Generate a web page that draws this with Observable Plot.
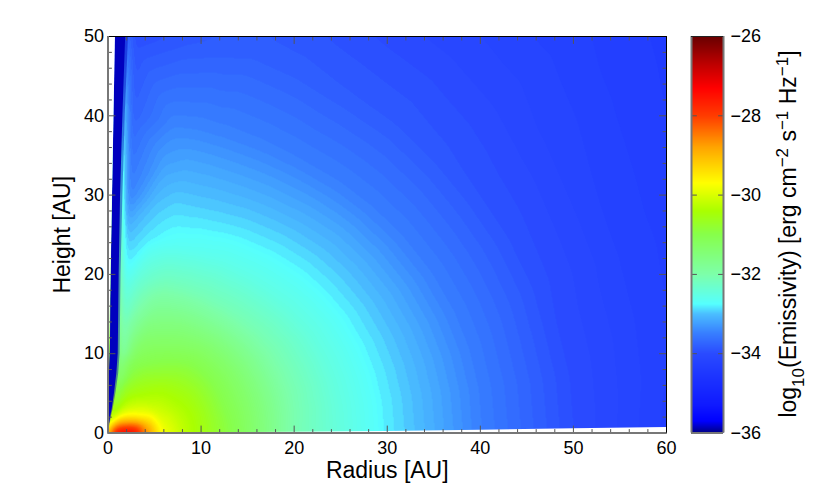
<!DOCTYPE html>
<html><head><meta charset="utf-8">
<script src="https://cdn.jsdelivr.net/npm/d3@7"></script>
<script src="https://cdn.jsdelivr.net/npm/@observablehq/plot@0.6"></script>
<style>
html,body{margin:0;padding:0;background:#fff}
#wrap{position:relative;width:830px;height:487px}
#wrap svg{position:absolute;left:0;top:0;font-family:"Liberation Sans",Arial,sans-serif}
</style></head><body><div id="wrap"></div>
<script>
// spherical radius [AU] of the sampled rows
const radii = [0.3,0.6,1,1.5,2,3,4,5.7,8,10,13,16,20,25,30,35,40,50,60,70,80];
// log10 emissivity read along rays, by elevation above the midplane [deg]
const elev0  = [-27.8,-27.4,-27.2,-27.1,-27.1,-27.4,-28.4,-29.7,-30.2,-30.5,-30.95,-31.4,-32.05,-32.45,-32.78,-33.1,-33.45,-33.95,-34.25,-34.4,-34.5];
const elev15 = [-28.1,-27.9,-27.7,-27.6,-27.7,-28,-28.9,-29.85,-30.25,-30.5,-31,-31.4,-32,-32.45,-32.78,-33.1,-33.45,-33.95,-34.2,-34.35,-34.45];
const elev30 = [-28.6,-28.4,-28.3,-28.2,-28.4,-29,-29.6,-30.05,-30.35,-30.55,-31,-31.4,-32,-32.45,-32.78,-33.1,-33.45,-33.9,-34.15,-34.3,-34.4];
const elev45 = [-29,-28.7,-28.5,-28.5,-28.9,-29.6,-29.95,-30.25,-30.45,-30.7,-31.05,-31.45,-32.05,-32.5,-32.8,-33.1,-33.45,-33.85,-34.05,-34.2,-34.3];
const elev60 = [-29.3,-28.8,-28.6,-29.1,-29.6,-30,-30.2,-30.45,-30.7,-30.95,-31.25,-31.55,-32.1,-32.55,-32.85,-33.14,-33.45,-33.8,-34,-34.15,-34.25];
const elev72 = [-29.5,-29.2,-29.8,-30.1,-30.3,-30.45,-30.55,-30.7,-30.95,-31.15,-31.4,-31.7,-32.15,-32.65,-32.9,-33.15,-33.43,-33.75,-33.95,-34.1,-34.2];
const elev80 = [-30,-30,-30.1,-30.3,-30.5,-30.7,-30.9,-31.1,-31.4,-31.6,-31.85,-32.1,-32.4,-32.8,-33,-33.22,-33.43,-33.82,-34,-34.1,-34.2];
const elevations = [[0,elev0],[15,elev15],[30,elev30],[45,elev45],[60,elev60],[72,elev72],[80,elev80]];

// extra rays, outer part only
const outerRadii = [8,10,13,16,20,25,30,35,40,50,60,70,80];
const elev8  = [-30.22,-30.5,-30.97,-31.4,-32.02,-32.45,-32.78,-33.1,-33.45,-33.95,-34.22,-34.38,-34.48];
const elev22 = [-30.3,-30.52,-31,-31.4,-32,-32.45,-32.78,-33.1,-33.45,-33.92,-34.18,-34.32,-34.42];
const elev38 = [-30.4,-30.62,-31.02,-31.42,-32.02,-32.47,-32.79,-33.1,-33.45,-33.88,-34.1,-34.25,-34.35];
const elev52 = [-30.58,-30.82,-31.15,-31.5,-32.08,-32.52,-32.82,-33.12,-33.45,-33.82,-34.02,-34.18,-34.28];
const elev66 = [-30.82,-31.05,-31.32,-31.62,-32.12,-32.6,-32.88,-33.15,-33.44,-33.77,-33.97,-34.12,-34.22];
const elev76 = [-31.15,-31.35,-31.6,-31.88,-32.25,-32.7,-32.9,-33.15,-33.42,-33.78,-33.97,-34.1,-34.2];
const outerElevations = [[8,elev8],[22,elev22],[38,elev38],[52,elev52],[66,elev66],[76,elev76]];

// the evacuated polar cone, read by height
const coneHeight   = [0,1,2,3,5,7.5,10,15,20,30,40,50,55];
const coneInnerR   = [0,0.02,0.04,0.06,0.1,0.15,0.25,0.3,0.35,0.5,0.65,0.8,0.9];
const coneOuterR   = [0,0.15,0.28,0.45,0.7,0.95,1.1,1.15,1.2,1.35,1.6,1.9,2.1];
const coneFadeR    = [0,0.2,0.36,0.55,0.85,1.15,1.3,1.35,1.4,1.6,1.85,2.2,2.4];
const shoulderHeight = [1,2,3,5,7.5,10,15,20,25,30,40,50,55];
const shoulderR    = [0.3,0.5,0.8,1.1,1.4,1.6,1.75,1.8,1.9,2,2.3,2.6,2.8];
const shoulderVal  = [-29,-30,-30.5,-31,-31.5,-32,-32.3,-32.7,-33,-33.45,-33.75,-33.95,-34.05];

// unfilled wedges of the grid
const gapLeftZ = [0,50], gapLeftR = [0,0.8];
const gapBottomR = [0,10,20,30,40,50,60], gapBottomZ = [0,0.02,0.1,0.2,0.35,0.55,0.7];

// colour table
const colorValues = [-36,-35.7,-35.3,-34.5,-34,-33.5,-33,-32.75,-32,-31,-30.4,-29.7,-28.8,-28,-27.3,-26.7,-26];
const colorStops = ["rgb(0,0,130)","rgb(0,0,255)","rgb(15,25,255)","rgb(30,55,255)","rgb(42,75,255)","rgb(55,125,255)","rgb(75,190,255)","rgb(85,255,255)","rgb(125,255,170)","rgb(135,255,75)","rgb(170,255,0)","rgb(255,255,0)","rgb(255,165,0)","rgb(255,60,0)","rgb(255,0,0)","rgb(190,0,0)","rgb(105,0,0)"];

const xMajor = [0,10,20,30,40,50,60];
const yMajor = [0,10,20,30,40,50];
const xMinor = [2,4,6,8,12,14,16,18,22,24,26,28,32,34,36,38,42,44,46,48,52,54,56,58];
const yMinor = [2,4,6,8,12,14,16,18,22,24,26,28,32,34,36,38,42,44,46,48];
const barTicks = [-36,-34,-32,-30,-28,-26];

const points = [];
const addRay = (rs,e,vals)=>rs.forEach((r,i)=>points.push({
  x:r*Math.cos(e*Math.PI/180), y:r*Math.sin(e*Math.PI/180), v:vals[i]}));
for (const [e, vals] of elevations) addRay(radii,e,vals);
for (const [e, vals] of outerElevations) addRay(outerRadii,e,vals);
shoulderHeight.forEach((z,i)=>points.push({x:shoulderR[i],y:z,v:shoulderVal[i]}));

const tickShape = {draw(c,l){c.moveTo(0,0);c.lineTo(0,-l);}};
const xt = (data,anchor,len,stroke="#555")=>Plot.vector(data,{x:d=>d,frameAnchor:anchor,length:len,rotate:anchor==="bottom"?0:180,anchor:"start",shape:tickShape,stroke,strokeWidth:1});
const yt = (data,anchor,len,stroke="#555")=>Plot.vector(data,{y:d=>d,frameAnchor:anchor,length:len,rotate:anchor==="left"?90:270,anchor:"start",shape:tickShape,stroke,strokeWidth:1});
const thresholds = [...d3.range(-36.05,-32.72,0.07),...d3.range(-32.72,-26,0.03)];
const colorScale = {type:"linear",domain:colorValues,range:colorStops,clamp:true};

const main = Plot.plot({
  width:830,height:487,marginLeft:107.5,marginRight:164,marginTop:36,marginBottom:54.5,
  style:{background:"transparent",fontFamily:"Liberation Sans"},
  x:{domain:[0,60]},y:{domain:[0,50]},color:colorScale,
  marks:[
    Plot.contour(points,{x:"x",y:"y",value:"v",fill:"value",thresholds,interpolate:"barycentric",pixelSize:1,blur:3,smooth:false}),
    Plot.areaX(coneHeight,{y:d=>d,x1:(d,i)=>coneInnerR[i],x2:(d,i)=>coneFadeR[i],fill:"rgb(0,0,190)",fillOpacity:0.45,clip:true}),
    Plot.areaX(coneHeight,{y:d=>d,x1:(d,i)=>coneInnerR[i],x2:(d,i)=>coneOuterR[i],fill:"rgb(0,0,190)",clip:true}),
    Plot.areaX(gapLeftZ,{y:d=>d,x1:0,x2:(d,i)=>gapLeftR[i],fill:"white"}),
    Plot.areaY(gapBottomR,{x:d=>d,y1:0,y2:(d,i)=>gapBottomZ[i],fill:"white"}),
    xt(xMajor,"bottom",7),xt(xMinor,"bottom",3.5),xt(xMajor,"top",7),xt(xMinor,"top",3.5),
    yt(yMajor,"left",7),yt(yMinor,"left",3.5),yt(yMajor,"right",7),yt(yMinor,"right",3.5),
    Plot.ruleY([50],{stroke:"black",strokeWidth:1}),
    Plot.ruleX([60],{stroke:"black",strokeWidth:1}),
    Plot.ruleY([0],{stroke:"#777",strokeWidth:2}),
    Plot.ruleX([0],{stroke:"#777",strokeWidth:2}),
    Plot.axisX(xMajor,{tickSize:0,tickPadding:8,fontSize:18,label:null,color:"black"}),
    Plot.axisY(yMajor,{tickSize:0,tickPadding:4,fontSize:18,label:null,color:"black"}),
    Plot.axisX([],{label:"Radius [AU]",labelAnchor:"center",labelArrow:"none",labelOffset:45,fontSize:23,color:"black"}),
    Plot.axisY([],{label:"Height [AU]",labelAnchor:"center",labelArrow:"none",labelOffset:54,fontSize:23,color:"black"})
  ]
});

const bar = Plot.plot({
  width:830,height:487,marginLeft:691,marginRight:107,marginTop:36,marginBottom:54.5,
  style:{background:"transparent",fontFamily:"Liberation Sans"},
  x:{domain:[0,1],axis:null},y:{domain:[-36,-26]},color:colorScale,
  marks:[
    Plot.raster({fill:(x,y)=>y,x1:0,x2:1,y1:-36,y2:-26,pixelSize:1}),
    yt(barTicks.slice(1,-1),"left",5),yt(barTicks.slice(1,-1),"right",5),
    Plot.ruleX([0,1],{stroke:"#777",strokeWidth:2}),
    Plot.ruleY([-26],{stroke:"#222",strokeWidth:1}),
    Plot.ruleY([-36],{stroke:"#777",strokeWidth:2}),
    Plot.axisY(barTicks,{anchor:"right",tickSize:0,tickPadding:7,fontSize:18,label:null,color:"black",tickFormat:d=>"\u2212"+Math.abs(d)})
  ]
});

const wrap = document.getElementById("wrap");
wrap.append(main,bar);

// rotated colour bar title with sub- and superscripts
const t = d3.select(bar).append("text")
  .attr("transform","translate(796,234) rotate(-90)")
  .attr("text-anchor","middle").attr("font-size",23).attr("fill","black");
const parts = [["log",0],["10",-1],["(Emissivity) [erg cm",0],["\u22122",1],[" s",0],["\u22121",1],[" Hz",0],["\u22121",1],["]",0]];
let level = 0;
for (const [s,l] of parts) {
  t.append("tspan").attr("dy",(level-l)*8+"px").attr("font-size",l?17:23).attr("xml:space","preserve").text(s);
  level = l;
}
</script></body></html>
